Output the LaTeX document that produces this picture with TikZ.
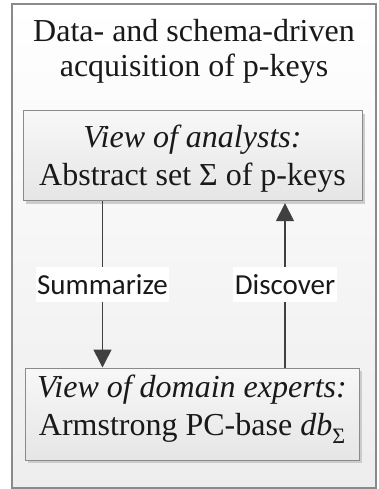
\documentclass[tikz,border=0pt]{standalone}
\usepackage{fontspec}
\setmainfont{Liberation Serif}
\newfontfamily\calib{Carlito}
\usetikzlibrary{arrows.meta,shadows,calc}
\definecolor{bordergray}{HTML}{8A8A8A}
\definecolor{linegray}{HTML}{404040}
\begin{document}
\begin{tikzpicture}[x=1pt,y=-1pt,
  outerbox/.style={draw=bordergray,line width=1.2pt,rectangle,top color=white,bottom color=black!7,inner sep=0pt},
  viewbox/.style={draw=bordergray,line width=1pt,rectangle,top color=black!3,bottom color=black!10,inner sep=0pt,
     drop shadow={shadow xshift=3pt,shadow yshift=-3pt,fill=black!20,opacity=1}},
  serif/.style={font=\fontsize{32}{37}\selectfont,inner sep=0pt,anchor=base,text=black!90},
  lbl/.style={fill=white,font=\calib\fontsize{29}{34}\selectfont,text height=19pt,text depth=0pt,minimum height=35pt,inner xsep=1.5pt,inner ysep=0pt,text=black!90},
  arr/.style={draw=linegray,line width=1.6pt,-{Triangle[length=18pt,width=18pt]}}]
\useasboundingbox (0,0) rectangle (378,489);
\node[outerbox,minimum width=364pt,minimum height=484pt] (outer) at (194,246) {};
\node[serif] (title1) at (194,42) {Data- and schema-driven};
\node[serif] (title2) at (194,77) {acquisition of p-keys};
\node[viewbox,minimum width=339pt,minimum height=90pt] (top) at (192.5,155.7) {};
\node[serif] (top1) at (192.5,148) {\itshape View of analysts:};
\node[serif] (top2) at (192.5,185) {Abstract set Σ of p-keys};
\node[viewbox,minimum width=334pt,minimum height=92pt] (bot) at (192,414) {};
\node[serif] (bot1) at (192,397) {\itshape View of domain experts:};
\node[serif] (bot2) at (192,435) {Armstrong PC-base \textit{db}\raisebox{-8pt}{\fontsize{22}{22}\selectfont Σ}};
\coordinate (sumx) at (102.5,284.5);
\coordinate (disx) at (285,284.5);
\draw[arr] (top.south -| sumx) -- (bot.north -| sumx);
\draw[arr] (bot.north -| disx) -- ($(top.south -| disx)+(0,2)$);
\node[lbl] (sum) at (sumx) {Summarize};
\node[lbl] (dis) at (disx) {Discover};
\end{tikzpicture}
\end{document}
